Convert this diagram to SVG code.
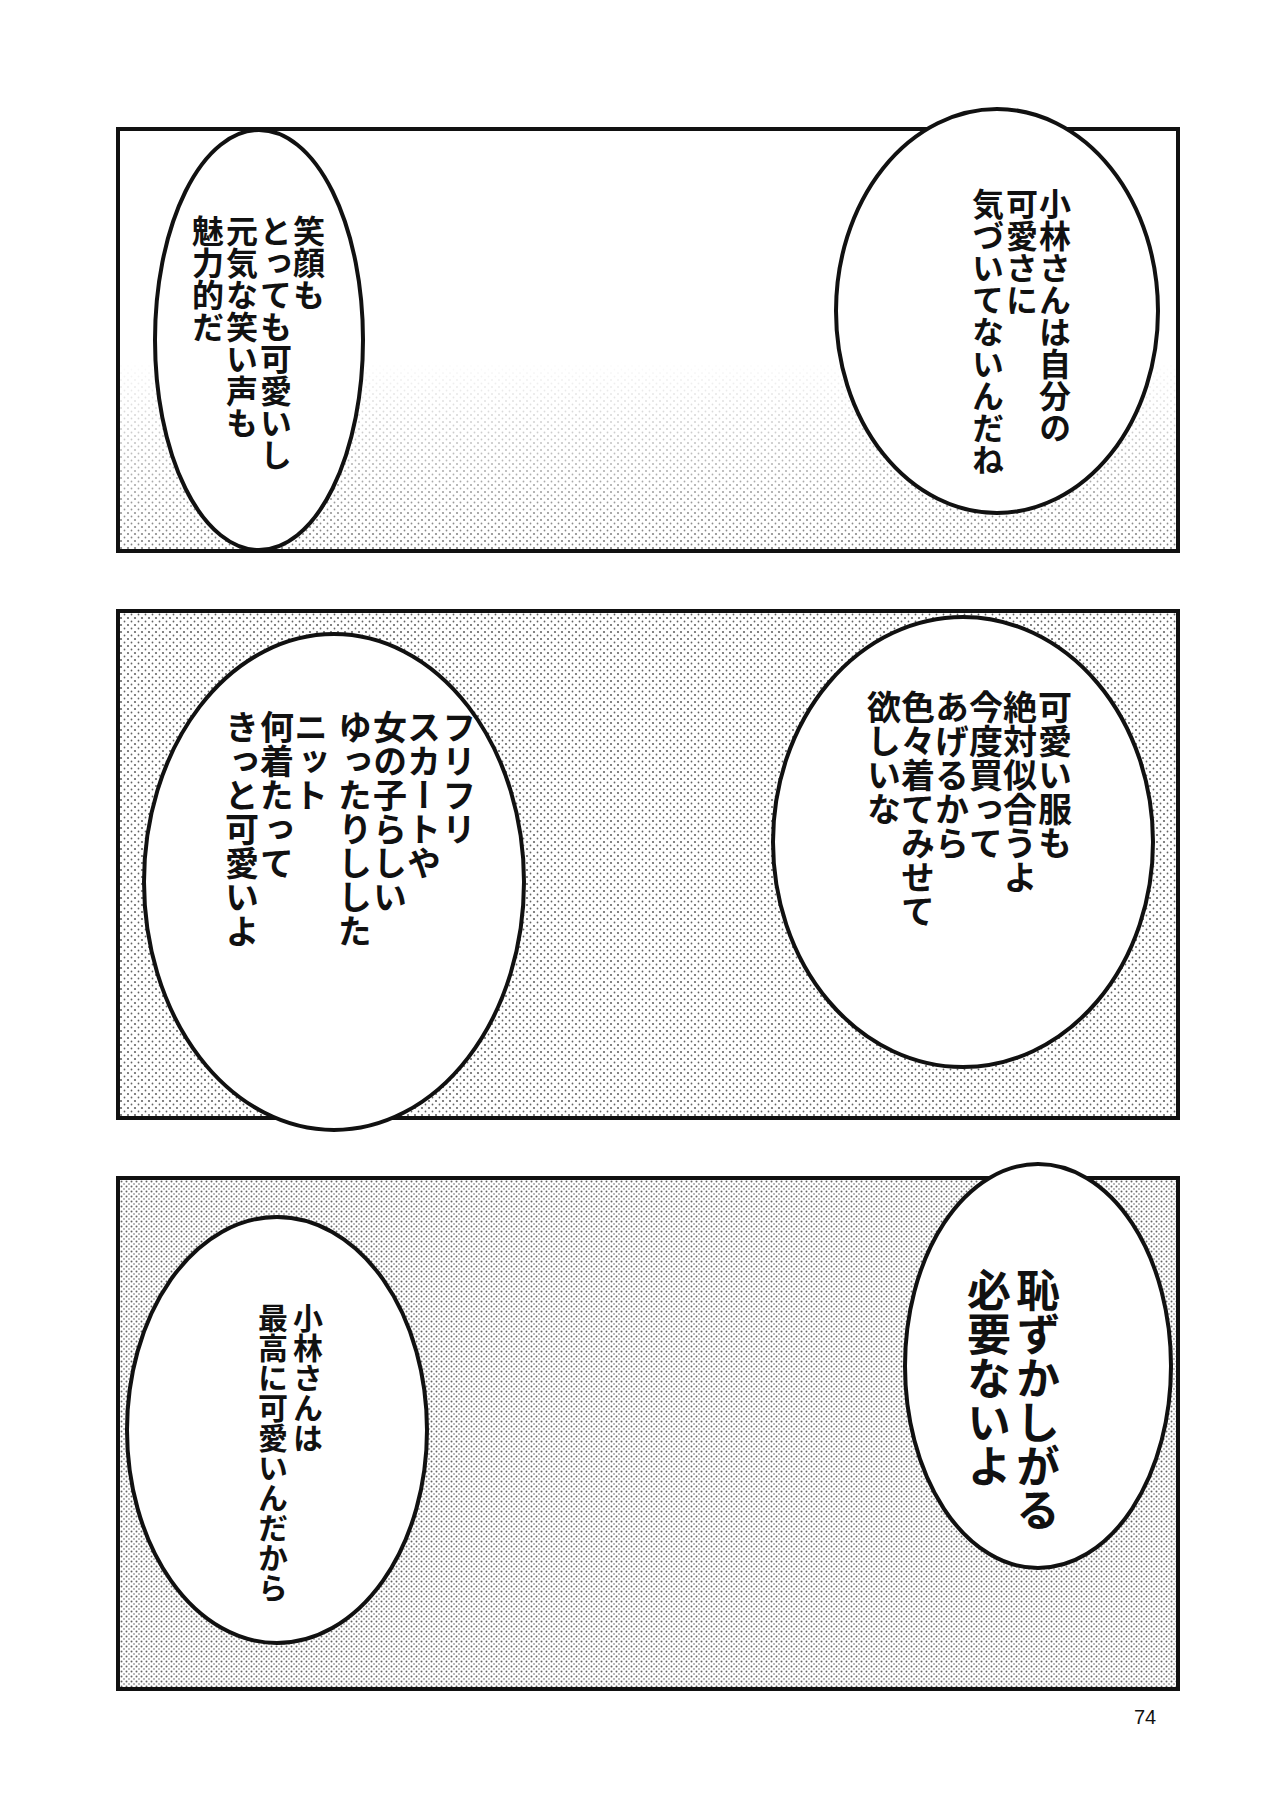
<svg xmlns="http://www.w3.org/2000/svg" width="1280" height="1808" viewBox="0 0 1280 1808">
<style>
.frame{fill:none;stroke:#111;stroke-width:4}
.bal{fill:#fff;stroke:#111;stroke-width:4}
.t{font-family:"Noto Sans CJK JP","Noto Sans CJK SC",sans-serif;font-weight:700;writing-mode:vertical-rl;fill:#111}
</style>
<defs>
<pattern id="dots" width="7" height="7" patternUnits="userSpaceOnUse">
<circle cx="2" cy="2" r="1.1" fill="#222"/><circle cx="5.5" cy="5.5" r="0.9" fill="#222"/>
</pattern>
<pattern id="dots2" width="5" height="5" patternUnits="userSpaceOnUse">
<circle cx="1.5" cy="1.5" r="1" fill="#222"/><circle cx="4" cy="4" r="0.8" fill="#222"/>
</pattern>
<linearGradient id="fade" x1="0" y1="0" x2="0" y2="1">
<stop offset="0" stop-color="#000"/><stop offset="0.55" stop-color="#000"/><stop offset="1" stop-color="#fff"/>
</linearGradient>
<mask id="m1"><rect x="118" y="129" width="1060" height="422" fill="url(#fade)"/></mask>
</defs>
<rect width="1280" height="1808" fill="#fff"/>
<g id="panel1">
<rect x="118" y="129" width="1060" height="422" fill="url(#dots)" opacity="0.6" mask="url(#m1)"/>
<rect class="frame" x="118" y="129" width="1060" height="422"/>
</g>
<g id="panel2">
<rect x="118" y="611" width="1060" height="507" fill="url(#dots)" opacity="0.7"/>
<rect class="frame" x="118" y="611" width="1060" height="507"/>
</g>
<g id="panel3">
<rect x="118" y="1178" width="1060" height="511" fill="url(#dots2)" opacity="0.7"/>
<rect class="frame" x="118" y="1178" width="1060" height="511"/>
</g>
<g id="connectors"></g>
<g id="b1">
<ellipse class="bal" cx="259" cy="340" rx="104" ry="210"/>
<text class="t" font-size="32"><tspan x="309" y="215">笑顔も</tspan></text>
<text class="t" font-size="32"><tspan x="276" y="215">とっても可愛いし</tspan></text>
<text class="t" font-size="32"><tspan x="242" y="215">元気な笑い声も</tspan></text>
<text class="t" font-size="32"><tspan x="208" y="215">魅力的だ</tspan></text>
</g>
<g id="b2">
<ellipse class="bal" cx="997" cy="311" rx="161" ry="202"/>
<text class="t" font-size="32"><tspan x="1055" y="188">小林さんは自分の</tspan></text>
<text class="t" font-size="32"><tspan x="1022" y="188">可愛さに</tspan></text>
<text class="t" font-size="32"><tspan x="988" y="188">気づいてないんだね</tspan></text>
</g>
<g id="b3">
<ellipse class="bal" cx="963" cy="842" rx="190" ry="225"/>
<text class="t" font-size="34"><tspan x="1055" y="690">可愛い服も</tspan></text>
<text class="t" font-size="34"><tspan x="1020" y="690">絶対似合うよ</tspan></text>
<text class="t" font-size="34"><tspan x="986" y="690">今度買って</tspan></text>
<text class="t" font-size="34"><tspan x="952" y="690">あげるから</tspan></text>
<text class="t" font-size="34"><tspan x="918" y="690">色々着てみせて</tspan></text>
<text class="t" font-size="34"><tspan x="884" y="690">欲しいな</tspan></text>
</g>
<g id="b4">
<ellipse class="bal" cx="334" cy="882" rx="190" ry="248"/>
<text class="t" font-size="34"><tspan x="459" y="710">フリフリ</tspan></text>
<text class="t" font-size="34"><tspan x="424" y="710">スカートや</tspan></text>
<text class="t" font-size="34"><tspan x="390" y="710">女の子らしい</tspan></text>
<text class="t" font-size="34"><tspan x="355" y="710">ゆったりしした</tspan></text>
<text class="t" font-size="34"><tspan x="311" y="710">ニット</tspan></text>
<text class="t" font-size="34"><tspan x="277" y="710">何着たって</tspan></text>
<text class="t" font-size="34"><tspan x="242" y="710">きっと可愛いよ</tspan></text>
</g>
<g id="b5">
<ellipse class="bal" cx="1038" cy="1366" rx="133" ry="202"/>
<text class="t" font-size="44"><tspan x="1038" y="1268">恥ずかしがる</tspan></text>
<text class="t" font-size="44"><tspan x="989" y="1268">必要ないよ</tspan></text>
</g>
<g id="b6">
<ellipse class="bal" cx="277" cy="1430" rx="150" ry="213"/>
<text class="t" font-size="30"><tspan x="308" y="1303">小林さんは</tspan></text>
<text class="t" font-size="30"><tspan x="273" y="1303">最高に可愛いんだから</tspan></text>
</g>
<text x="1145" y="1724" font-family="Liberation Sans,sans-serif" font-size="20" text-anchor="middle" fill="#111">74</text>
</svg>
